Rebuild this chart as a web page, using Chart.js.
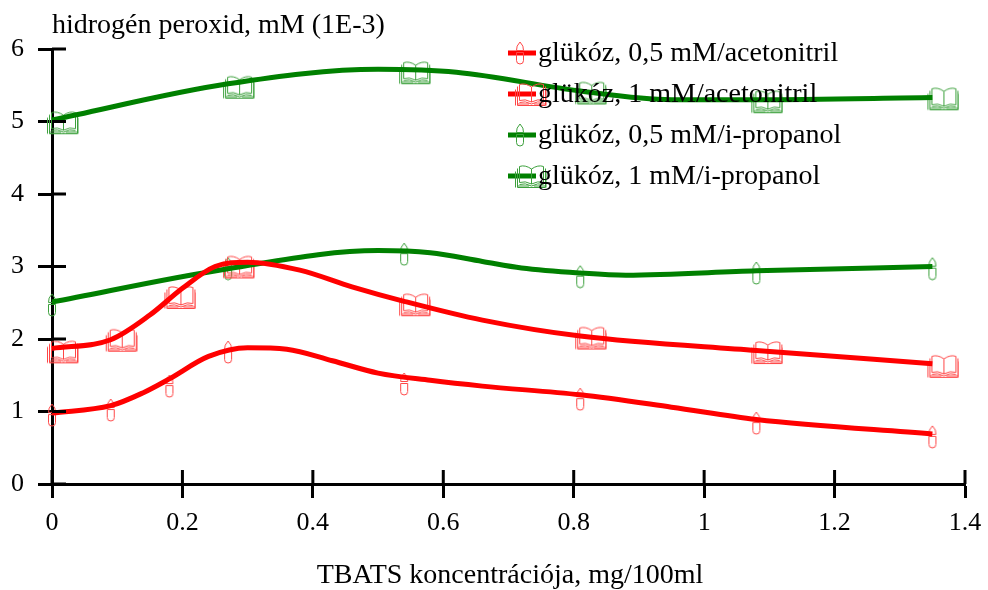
<!DOCTYPE html>
<html>
<head>
<meta charset="utf-8">
<script src="https://cdn.jsdelivr.net/npm/chart.js"></script>
<style>
  html, body { margin: 0; padding: 0; background: #fff; }
  #wrap { width: 988px; height: 590px; }
</style>
</head>
<body>
<div id="wrap"><canvas id="chart"></canvas></div>
<script>
// measured points (TBATS, mg/100ml)
const xPoints = [0, 0.09, 0.18, 0.27, 0.54, 0.81, 1.08, 1.35];
const acn05 = [0.95, 1.02, 1.35, 1.82, 1.38, 1.17, 0.84, 0.65];
const acn1  = [1.83, 1.99, 2.58, 3.00, 2.48, 2.02, 1.82, 1.63];
const ipr05 = [2.47, null, null, 2.97, 3.17, 2.86, 2.91, 2.97];
const ipr1  = [4.99, null, null, 5.48, 5.68, 5.40, 5.28, 5.32];

// fitted curves
const acn05CurveX = [0, 0.09, 0.14, 0.18, 0.24, 0.3, 0.36, 0.43, 0.5, 0.58, 0.66, 0.81, 0.95, 1.08, 1.35];
const acn05Curve  = [0.98, 1.08, 1.26, 1.45, 1.76, 1.88, 1.86, 1.70, 1.53, 1.43, 1.35, 1.23, 1.06, 0.89, 0.69];
const acn1CurveX  = [0, 0.09, 0.15, 0.2, 0.25, 0.3, 0.38, 0.46, 0.54, 0.66, 0.81, 1.08, 1.35];
const acn1Curve   = [1.87, 1.99, 2.33, 2.70, 3.00, 3.06, 2.95, 2.72, 2.52, 2.26, 2.04, 1.84, 1.66];
const ipr05CurveX = [0, 0.27, 0.5, 0.58, 0.66, 0.72, 0.81, 0.88, 1.08, 1.35];
const ipr05Curve  = [2.51, 2.97, 3.22, 3.19, 3.07, 2.98, 2.91, 2.88, 2.94, 3.00];
const ipr1CurveX  = [0, 0.27, 0.5, 0.62, 0.81, 0.95, 1.08, 1.35];
const ipr1Curve   = [5.02, 5.52, 5.72, 5.68, 5.42, 5.30, 5.30, 5.33];

const xTickLabels = ['0', '0.2', '0.4', '0.6', '0.8', '1', '1.2', '1.4'];
const yTickLabels = ['0', '1', '2', '3', '4', '5', '6'];
const seriesNames = ['glükóz, 0,5 mM/acetonitril', 'glükóz, 1 mM/acetonitril',
                     'glükóz, 0,5 mM/i-propanol', 'glükóz, 1 mM/i-propanol'];

const RED = '#ff0000', GREEN = '#008000';
const RED_ICON = 'rgb(255,70,70)', GREEN_ICON = 'rgb(60,160,60)';

// book marker: glyph sits to the right of the point
function bookIcon(color) {
  const c = document.createElement('canvas');
  c.width = 54; c.height = 26;
  const g = c.getContext('2d');
  g.strokeStyle = color; g.lineWidth = 1;
  g.beginPath();
  // pages
  g.moveTo(38.5, 6); g.quadraticCurveTo(32, 1.5, 26.5, 3.5); g.lineTo(26.5, 19.5);
  g.quadraticCurveTo(32, 17.5, 38.5, 21); g.lineTo(38.5, 6);
  g.quadraticCurveTo(45, 1.5, 50.5, 3.5); g.lineTo(50.5, 19.5);
  g.quadraticCurveTo(45, 17.5, 38.5, 21);
  // page edges
  g.moveTo(24.5, 5.5); g.lineTo(24.5, 24.5); g.lineTo(52.5, 24.5); g.lineTo(52.5, 5.5);
  g.moveTo(22.5, 8.5); g.lineTo(22.5, 24.5); g.moveTo(54, 8.5); g.lineTo(54, 24.5);
  g.moveTo(26.5, 21.5); g.quadraticCurveTo(32, 19.5, 38.5, 23);
  g.quadraticCurveTo(45, 19.5, 50.5, 21.5);
  g.moveTo(24.5, 23); g.lineTo(36, 23); g.moveTo(41, 23); g.lineTo(52.5, 23);
  g.stroke();
  return c;
}

function vialIcon(color) {
  const c = document.createElement('canvas');
  c.width = 10; c.height = 24;
  const g = c.getContext('2d');
  g.strokeStyle = color; g.lineWidth = 1;
  g.beginPath();
  g.moveTo(5, 1); g.quadraticCurveTo(9, 5, 8.5, 9.5); g.lineTo(1.5, 9.5);
  g.quadraticCurveTo(1, 5, 5, 1);
  g.moveTo(1.5, 11.5); g.lineTo(8.5, 11.5); g.lineTo(8.5, 19.5);
  g.arc(5, 19.5, 3.5, 0, Math.PI); g.lineTo(1.5, 11.5);
  g.stroke();
  return c;
}

const icons = [vialIcon(RED_ICON), bookIcon(RED_ICON), vialIcon(GREEN_ICON), bookIcon(GREEN_ICON)];
const lineColors = [RED, RED, GREEN, GREEN];

const pts = (xs, ys) => xs.map((x, i) => ({x: x, y: ys[i]}));

function curve(xs, ys, color) {
  return {
    data: pts(xs, ys), borderColor: color, borderWidth: 5, pointRadius: 0,
    cubicInterpolationMode: 'monotone', fill: false, clip: false
  };
}
function markers(ys, icon) {
  return {
    data: pts(xPoints, ys), showLine: false, pointStyle: icon, pointRadius: 5,
    clip: false
  };
}

// extra decorations: inner tick halves, top title, x title, legend
const decor = {
  id: 'decor',
  afterDraw(chart) {
    const ctx = chart.ctx, a = chart.chartArea;
    const xs = chart.scales.x, ys = chart.scales.y;
    ctx.save();
    ctx.strokeStyle = '#000'; ctx.lineWidth = 3;
    ctx.beginPath();
    ys.ticks.forEach(t => { const y = ys.getPixelForValue(t.value); ctx.moveTo(a.left, y); ctx.lineTo(a.left + 14, y); });
    xs.ticks.forEach(t => { const x = xs.getPixelForValue(t.value); ctx.moveTo(x, a.bottom); ctx.lineTo(x, a.bottom - 14); });
    ctx.stroke();

    ctx.fillStyle = '#000';
    ctx.font = '28px "Liberation Serif"';
    ctx.textBaseline = 'middle';
    ctx.textAlign = 'left';
    ctx.fillText('hidrogén peroxid, mM (1E-3)', 52, 26);
    ctx.textAlign = 'center';
    ctx.fillText('TBATS koncentrációja, mg/100ml', 510, 576);

    ctx.textAlign = 'left';
    const rowY = [53, 94, 135, 176];
    seriesNames.forEach((name, i) => {
      const y = rowY[i];
      ctx.strokeStyle = lineColors[i]; ctx.lineWidth = 5;
      ctx.beginPath(); ctx.moveTo(508, y); ctx.lineTo(536, y); ctx.stroke();
      const ic = icons[i];
      ctx.drawImage(ic, 520 - ic.width / 2, y - ic.height / 2);
      ctx.fillStyle = '#000';
      ctx.fillText(name, 538, y + 1);
    });
    ctx.restore();
  }
};

Chart.defaults.font.family = '"Liberation Serif"';
Chart.defaults.color = '#000';

new Chart(document.getElementById('chart'), {
  type: 'line',
  data: {
    datasets: [
      curve(acn05CurveX, acn05Curve, RED),
      curve(acn1CurveX, acn1Curve, RED),
      curve(ipr05CurveX, ipr05Curve, GREEN),
      curve(ipr1CurveX, ipr1Curve, GREEN),
      markers(acn05, icons[0]),
      markers(acn1, icons[1]),
      markers(ipr05, icons[2]),
      markers(ipr1, icons[3])
    ]
  },
  options: {
    responsive: true,
    maintainAspectRatio: false,
    animation: false,
    layout: { padding: { left: 0, right: 23, top: 49, bottom: 0 } },
    plugins: { legend: { display: false }, tooltip: { enabled: false } },
    scales: {
      x: {
        type: 'linear', min: 0, max: 1.4,
        afterFit: s => { s.height = 106; s.paddingLeft = 0; s.paddingRight = 0; },
        afterBuildTicks: s => { s.ticks = xTickLabels.map(v => ({value: +v})); },
        ticks: { font: { size: 26 }, padding: 10, maxRotation: 0,
                 callback: (v, i) => xTickLabels[i] },
        grid: { drawOnChartArea: false, tickLength: 14, tickWidth: 3, color: '#000' },
        border: { color: '#000', width: 3 }
      },
      y: {
        min: 0, max: 6,
        afterFit: s => { s.width = 52; s.paddingTop = 0; s.paddingBottom = 0; },
        afterBuildTicks: s => { s.ticks = yTickLabels.map(v => ({value: +v})); },
        ticks: { font: { size: 26 }, padding: 14, callback: (v, i) => yTickLabels[i] },
        grid: { drawOnChartArea: false, tickLength: 14, tickWidth: 3, color: '#000' },
        border: { color: '#000', width: 3 }
      }
    }
  },
  plugins: [decor]
});
</script>
</body>
</html>
